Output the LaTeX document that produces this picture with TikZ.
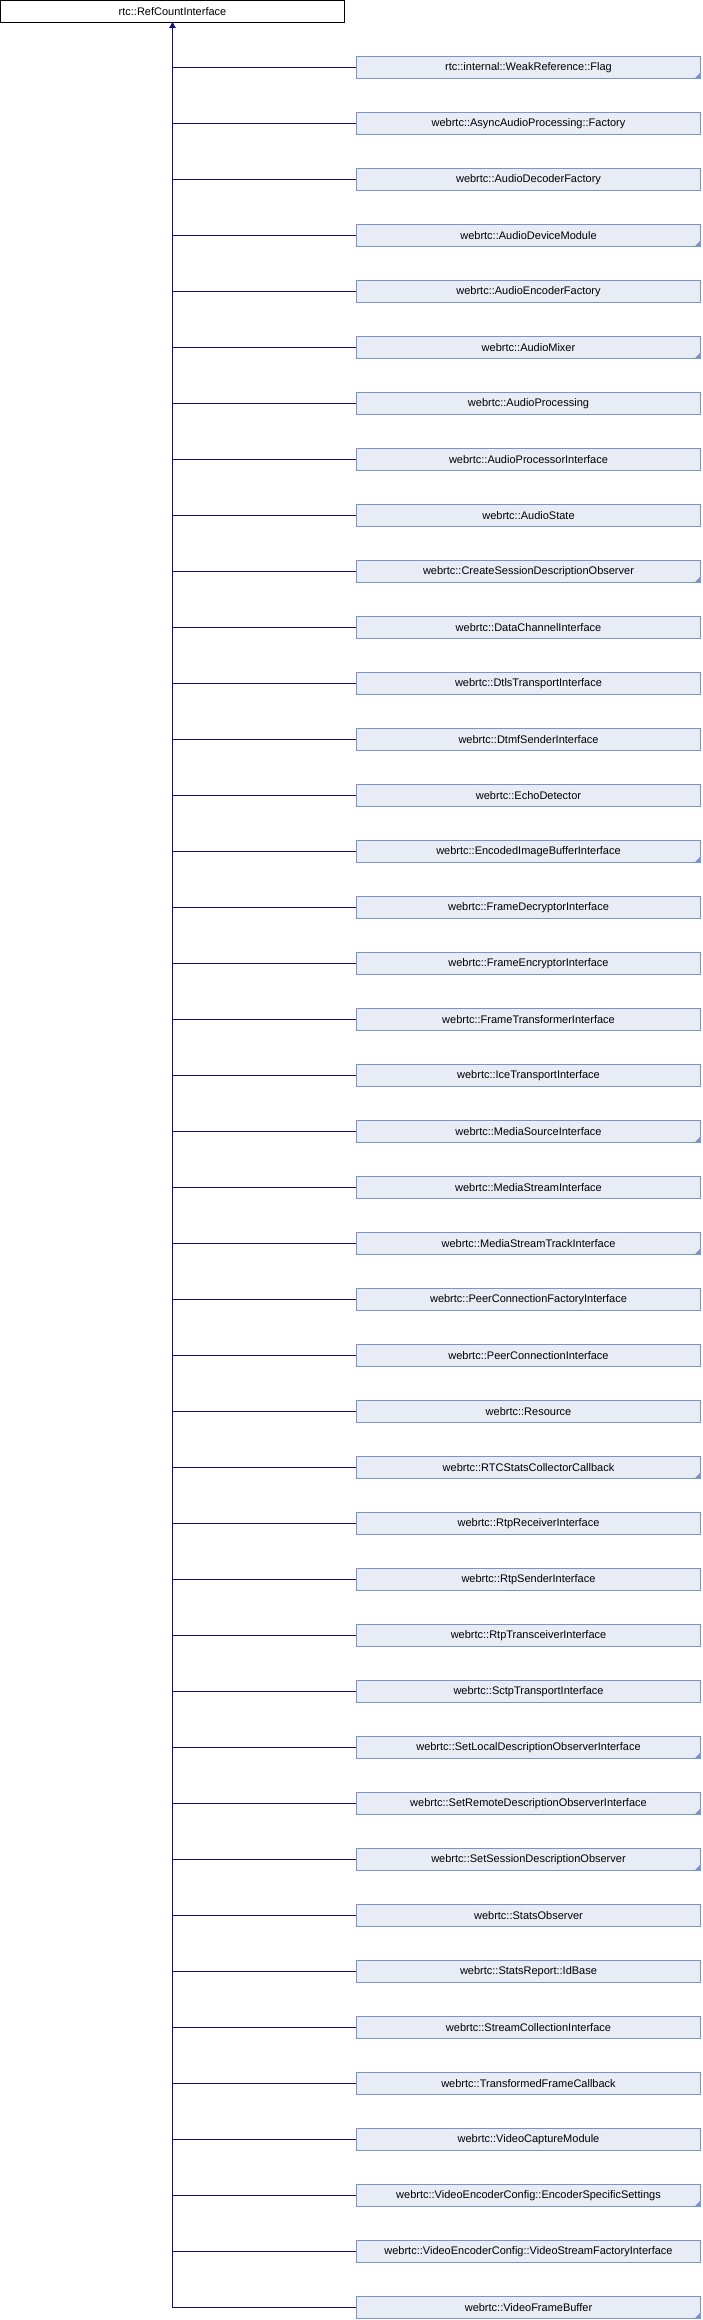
\documentclass[tikz,border=0pt]{standalone}
\usepackage{fontspec}
\setmainfont{Liberation Sans}
\usepackage{xcolor}
\usepackage{tikz}
\usetikzlibrary{arrows.meta, positioning}
\definecolor{doxyfill}{HTML}{E8ECF5}
\definecolor{doxyline}{HTML}{7A93C8}
\definecolor{doxyedge}{HTML}{101080}

\begin{document}
\begin{tikzpicture}[x=1pt, y=1pt,
  font=\fontsize{11}{13}\selectfont,
  base/.style={draw=black, fill=white, line width=0.8pt, minimum width=344pt, minimum height=22pt, inner sep=0pt},
  cls/.style={draw=doxyline, fill=doxyfill, line width=0.8pt, minimum width=344pt, minimum height=22pt, inner sep=0pt},
  more/.style={cls, path picture={\fill[doxyline] ([xshift=-6pt]path picture bounding box.south east) -- (path picture bounding box.south east) -- ([yshift=6pt]path picture bounding box.south east) -- cycle;}},
  inherit/.style={draw=doxyedge, line width=0.8pt, {Triangle[length=5pt,width=5pt]}-}]
  \useasboundingbox (0,0) rectangle (702,-2320);
  \node[base] (rci) at (172.5,-11.5) {rtc::RefCountInterface};
  \node[more] (flag) at (528.5,-67.5) {rtc::internal::WeakReference::Flag};
  \node[cls] (aapf) at (528.5,-123.5) {webrtc::AsyncAudioProcessing::Factory};
  \node[cls] (adf) at (528.5,-179.5) {webrtc::AudioDecoderFactory};
  \node[more] (adm) at (528.5,-235.5) {webrtc::AudioDeviceModule};
  \node[cls] (aef) at (528.5,-291.5) {webrtc::AudioEncoderFactory};
  \node[more] (amix) at (528.5,-347.5) {webrtc::AudioMixer};
  \node[cls] (aproc) at (528.5,-403.5) {webrtc::AudioProcessing};
  \node[cls] (apif) at (528.5,-459.5) {webrtc::AudioProcessorInterface};
  \node[cls] (astate) at (528.5,-515.5) {webrtc::AudioState};
  \node[more] (csdo) at (528.5,-571.5) {webrtc::CreateSessionDescriptionObserver};
  \node[cls] (dcif) at (528.5,-627.5) {webrtc::DataChannelInterface};
  \node[cls] (dtlsif) at (528.5,-683.5) {webrtc::DtlsTransportInterface};
  \node[cls] (dtmfif) at (528.5,-739.5) {webrtc::DtmfSenderInterface};
  \node[cls] (echo) at (528.5,-795.5) {webrtc::EchoDetector};
  \node[more] (eibif) at (528.5,-851.5) {webrtc::EncodedImageBufferInterface};
  \node[cls] (fdif) at (528.5,-907.5) {webrtc::FrameDecryptorInterface};
  \node[cls] (feif) at (528.5,-963.5) {webrtc::FrameEncryptorInterface};
  \node[cls] (ftif) at (528.5,-1019.5) {webrtc::FrameTransformerInterface};
  \node[cls] (itif) at (528.5,-1075.5) {webrtc::IceTransportInterface};
  \node[more] (msrcif) at (528.5,-1131.5) {webrtc::MediaSourceInterface};
  \node[cls] (msif) at (528.5,-1187.5) {webrtc::MediaStreamInterface};
  \node[more] (mstif) at (528.5,-1243.5) {webrtc::MediaStreamTrackInterface};
  \node[cls] (pcfif) at (528.5,-1299.5) {webrtc::PeerConnectionFactoryInterface};
  \node[cls] (pcif) at (528.5,-1355.5) {webrtc::PeerConnectionInterface};
  \node[cls] (res) at (528.5,-1411.5) {webrtc::Resource};
  \node[more] (rtcscc) at (528.5,-1467.5) {webrtc::RTCStatsCollectorCallback};
  \node[cls] (rrif) at (528.5,-1523.5) {webrtc::RtpReceiverInterface};
  \node[cls] (rsif) at (528.5,-1579.5) {webrtc::RtpSenderInterface};
  \node[cls] (rtif) at (528.5,-1635.5) {webrtc::RtpTransceiverInterface};
  \node[cls] (sctpif) at (528.5,-1691.5) {webrtc::SctpTransportInterface};
  \node[more] (sldoif) at (528.5,-1747.5) {webrtc::SetLocalDescriptionObserverInterface};
  \node[more] (srdoif) at (528.5,-1803.5) {webrtc::SetRemoteDescriptionObserverInterface};
  \node[more] (ssdo) at (528.5,-1859.5) {webrtc::SetSessionDescriptionObserver};
  \node[cls] (statso) at (528.5,-1915.5) {webrtc::StatsObserver};
  \node[cls] (idbase) at (528.5,-1971.5) {webrtc::StatsReport::IdBase};
  \node[cls] (scif) at (528.5,-2027.5) {webrtc::StreamCollectionInterface};
  \node[cls] (tfcb) at (528.5,-2083.5) {webrtc::TransformedFrameCallback};
  \node[cls] (vcm) at (528.5,-2139.5) {webrtc::VideoCaptureModule};
  \node[more] (vecss) at (528.5,-2195.5) {webrtc::VideoEncoderConfig::EncoderSpecificSettings};
  \node[cls] (vecsfi) at (528.5,-2251.5) {webrtc::VideoEncoderConfig::VideoStreamFactoryInterface};
  \node[more] (vfb) at (528.5,-2307.5) {webrtc::VideoFrameBuffer};
  \draw[inherit] (rci) |- (flag);
  \draw[inherit] (rci) |- (aapf);
  \draw[inherit] (rci) |- (adf);
  \draw[inherit] (rci) |- (adm);
  \draw[inherit] (rci) |- (aef);
  \draw[inherit] (rci) |- (amix);
  \draw[inherit] (rci) |- (aproc);
  \draw[inherit] (rci) |- (apif);
  \draw[inherit] (rci) |- (astate);
  \draw[inherit] (rci) |- (csdo);
  \draw[inherit] (rci) |- (dcif);
  \draw[inherit] (rci) |- (dtlsif);
  \draw[inherit] (rci) |- (dtmfif);
  \draw[inherit] (rci) |- (echo);
  \draw[inherit] (rci) |- (eibif);
  \draw[inherit] (rci) |- (fdif);
  \draw[inherit] (rci) |- (feif);
  \draw[inherit] (rci) |- (ftif);
  \draw[inherit] (rci) |- (itif);
  \draw[inherit] (rci) |- (msrcif);
  \draw[inherit] (rci) |- (msif);
  \draw[inherit] (rci) |- (mstif);
  \draw[inherit] (rci) |- (pcfif);
  \draw[inherit] (rci) |- (pcif);
  \draw[inherit] (rci) |- (res);
  \draw[inherit] (rci) |- (rtcscc);
  \draw[inherit] (rci) |- (rrif);
  \draw[inherit] (rci) |- (rsif);
  \draw[inherit] (rci) |- (rtif);
  \draw[inherit] (rci) |- (sctpif);
  \draw[inherit] (rci) |- (sldoif);
  \draw[inherit] (rci) |- (srdoif);
  \draw[inherit] (rci) |- (ssdo);
  \draw[inherit] (rci) |- (statso);
  \draw[inherit] (rci) |- (idbase);
  \draw[inherit] (rci) |- (scif);
  \draw[inherit] (rci) |- (tfcb);
  \draw[inherit] (rci) |- (vcm);
  \draw[inherit] (rci) |- (vecss);
  \draw[inherit] (rci) |- (vecsfi);
  \draw[inherit] (rci) |- (vfb);
\end{tikzpicture}
\end{document}
